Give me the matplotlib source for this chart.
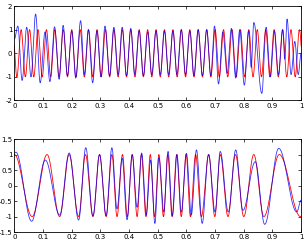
import numpy as np
import matplotlib
matplotlib.use("Agg")
import matplotlib.pyplot as plt

plt.rcParams['axes.unicode_minus'] = False
plt.rcParams['font.family'] = ['DejaVu Sans']

# ---------------- data ----------------
# top panel: red reference sinusoid
red_top_freq = 34.0          # cycles over the unit interval
red_top_phase = 0.80         # first peak at (k + phase)/freq

# top panel: blue noisy signal, extrema (time, value)
blue_top_t = [0.000, 0.012, 0.027, 0.043, 0.058, 0.074, 0.090, 0.107, 0.124, 0.140,
              0.156, 0.170, 0.185, 0.200, 0.214, 0.231, 0.244, 0.258, 0.273, 0.288,
              0.302, 0.316, 0.332, 0.347, 0.362, 0.376, 0.391, 0.406, 0.420, 0.435,
              0.450, 0.465, 0.479, 0.494, 0.509, 0.523, 0.538, 0.553, 0.567, 0.582,
              0.597, 0.612, 0.626, 0.641, 0.656, 0.671, 0.685, 0.698, 0.712, 0.727,
              0.742, 0.757, 0.772, 0.786, 0.802, 0.817, 0.826, 0.835, 0.863, 0.878,
              0.893, 0.907, 0.921, 0.936, 0.943, 0.951, 0.965, 0.978, 0.990, 1.000]
blue_top_v = [0.60, 1.15, -1.15, 1.10, -1.00, 1.66, -1.25, 0.90, -1.20, 1.12,
              -1.10, 1.18, -0.95, 0.95, -1.05, 1.38, -0.90, 1.00, -1.25, 0.95,
              -1.00, 1.15, -0.95, 1.10, -0.90, 1.10, -0.95, 1.05, -0.90, 0.95,
              -0.95, 0.90, -0.90, 0.95, -0.90, 0.95, -0.90, 0.95, -0.90, 1.00,
              -0.90, 0.95, -0.95, 1.00, -0.95, 1.00, -0.95, 1.15, -1.30, 0.90,
              -0.85, 1.05, -1.05, 1.00, -1.35, 0.95, -0.60, 1.30, -1.70, 1.10,
              -1.00, 0.95, -0.90, 1.00, -0.25, 1.45, -0.90, 0.50, -0.90, 0.00]

# bottom panel: red chirp extrema
red_bot_t = [0.000, 0.062, 0.114, 0.158, 0.191, 0.224, 0.248, 0.274, 0.297, 0.320,
             0.340, 0.358, 0.377, 0.394, 0.411, 0.428, 0.443, 0.459, 0.474, 0.489,
             0.504, 0.520, 0.535, 0.550, 0.566, 0.582, 0.599, 0.614, 0.632, 0.652,
             0.678, 0.699, 0.718, 0.745, 0.771, 0.800, 0.835, 0.870, 0.924, 0.998, 1.000]
red_bot_v = [1.0, -1.0, 1.0, -1.0, 1.0, -1.0, 1.0, -1.0, 1.0, -1.0,
             1.0, -1.0, 1.0, -1.0, 1.0, -1.0, 1.0, -1.0, 1.0, -1.0,
             1.0, -1.0, 1.0, -1.0, 1.0, -1.0, 1.0, -1.0, 1.0, -1.0,
             1.0, -1.0, 1.0, -1.0, 1.0, -1.0, 1.0, -1.0, 1.0, -1.0, -0.99]

# bottom panel: blue estimate extrema
blue_bot_t = [0.000, 0.005, 0.060, 0.108, 0.158, 0.191, 0.224, 0.249, 0.274, 0.297,
              0.320, 0.340, 0.358, 0.376, 0.393, 0.411, 0.428, 0.444, 0.460, 0.475,
              0.490, 0.504, 0.521, 0.536, 0.551, 0.567, 0.582, 0.600, 0.617, 0.635,
              0.655, 0.677, 0.700, 0.718, 0.746, 0.772, 0.797, 0.840, 0.873, 0.922,
              0.985, 1.000]
blue_bot_v = [1.05, 1.08, -1.15, 0.82, -0.95, 1.05, -1.11, 1.22, -0.98, 1.00,
              -0.97, 1.22, -0.75, 0.88, -1.10, 1.00, -0.70, 1.05, -0.95, 0.82,
              -1.22, 0.90, -0.85, 1.10, -0.98, 1.00, -0.86, 1.04, -0.95, 1.15,
              -1.22, 1.00, -0.85, 1.10, -0.85, 1.15, -0.80, 0.77, -1.25, 1.20,
              -0.85, -0.47]

top_xticks = [0, 0.1, 0.2, 0.3, 0.4, 0.5, 0.6, 0.7, 0.8, 0.9, 1]
top_xlabels = ['0', '0.1', '0.2', '0.3', '0.4', '0.5', '0.6', '0.7', '0.8', '0.9', '1']
top_yticks = [-2, -1, 0, 1, 2]
top_ylabels = ['-2', '-1', '0', '1', '2']
bot_yticks = [-1.5, -1, -0.5, 0, 0.5, 1, 1.5]
bot_ylabels = ['-1.5', '-1', '-0.5', '0', '0.5', '1', '1.5']


# ---------------- helpers ----------------
def extrema_curve(tk, vk, n=4000):
    tk = np.asarray(tk, float)
    vk = np.asarray(vk, float)
    t = np.linspace(tk[0], tk[-1], n)
    idx = np.clip(np.searchsorted(tk, t, side='right') - 1, 0, len(tk) - 2)
    t0, t1 = tk[idx], tk[idx + 1]
    v0, v1 = vk[idx], vk[idx + 1]
    s = (t - t0) / (t1 - t0)
    return t, v0 + (v1 - v0) * (1 - np.cos(np.pi * s)) / 2


def style(ax, xticks, xlabels, yticks, ylabels, ylim):
    ax.set_xlim(0, 1)
    ax.set_ylim(*ylim)
    ax.set_xticks(xticks)
    ax.set_xticklabels(xlabels)
    ax.set_yticks(yticks)
    ax.set_yticklabels(ylabels)
    ax.tick_params(direction='in', length=2.2, width=0.5, labelsize=5,
                   top=True, right=True, pad=1.5, colors='black')
    for sp in ax.spines.values():
        sp.set_linewidth(0.6)
        sp.set_color('black')


fig = plt.figure(figsize=(3.06, 2.41), dpi=100)
ax1 = fig.add_axes([0.047, 0.583, 0.937, 0.392])
ax2 = fig.add_axes([0.047, 0.037, 0.937, 0.386])

# top
t_top = np.linspace(0, 1, 4000)
red_top = np.cos(2 * np.pi * (red_top_freq * t_top - red_top_phase))
ax1.plot(t_top, red_top, color='#ff0000', lw=0.6)
tb, vb = extrema_curve(blue_top_t, blue_top_v)
ax1.plot(tb, vb, color='#0000ff', lw=0.6, alpha=0.8)
style(ax1, top_xticks, top_xlabels, top_yticks, top_ylabels, (-2, 2))

# bottom
tr, vr = extrema_curve(red_bot_t, red_bot_v)
ax2.plot(tr, vr, color='#ff0000', lw=0.6)
tb2, vb2 = extrema_curve(blue_bot_t, blue_bot_v)
ax2.plot(tb2, vb2, color='#0000ff', lw=0.6, alpha=0.8)
style(ax2, top_xticks, top_xlabels, bot_yticks, bot_ylabels, (-1.5, 1.5))

fig.savefig('out.png', dpi=100)
